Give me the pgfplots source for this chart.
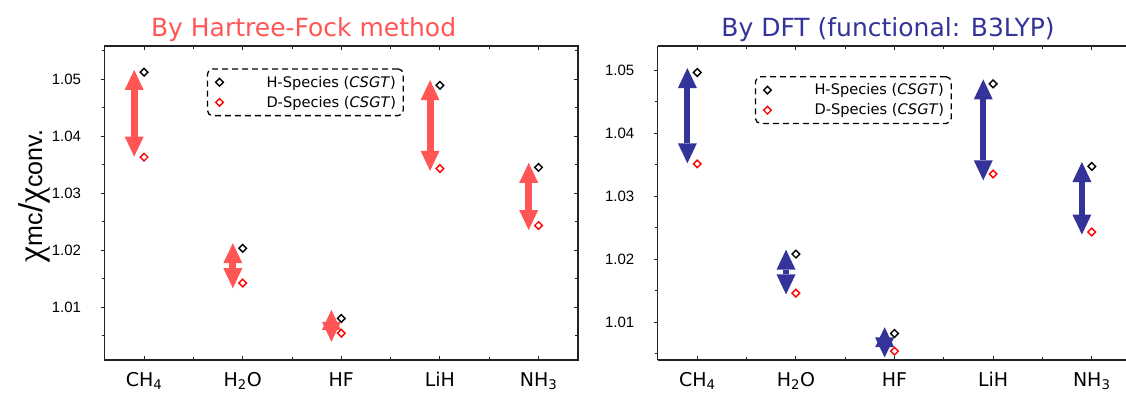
\documentclass[border=0pt]{standalone}
\usepackage{pgfplots}
\pgfplotsset{compat=1.18}
\usepackage{fontspec}
\setmainfont{DejaVu Sans}
\newfontfamily\numfont{Liberation Sans}
\newfontfamily\chifont{Liberation Serif}
\usetikzlibrary{arrows.meta}

\definecolor{hfred}{RGB}{255,85,85}
\definecolor{dftblue}{RGB}{51,51,153}
\definecolor{dred}{RGB}{255,0,0}
\definecolor{spine}{RGB}{34,34,34}

\pgfplotsset{
  panel/.style={
    scale only axis, width=473.4pt, height=314pt, anchor=south west,
    xmin=-0.4, xmax=4.4,
    xtick={0,1,2,3,4},
    xticklabels={CH\textsubscript{4},H\textsubscript{2}O,HF,LiH,NH\textsubscript{3}},
    minor xtick={0.5,1.5,2.5,3.5},
    xtick align=inside,
    ytick={1.01,1.02,1.03,1.04,1.05},
    ytick pos=left, ytick align=outside,
    major tick length=4pt, minor tick length=3pt,
    axis line style={line width=1.3pt, spine},
    every tick/.append style={spine, line width=0.9pt},
    every minor tick/.append style={spine, line width=0.9pt},
    scaled y ticks=false,
    /pgf/number format/assume math mode=true,
    yticklabel style={font=\numfont\fontsize{15}{17}\selectfont,
      /pgf/number format/fixed, /pgf/number format/precision=2,
      /pgf/number format/fixed zerofill},
    xticklabel style={font=\fontsize{19}{21}\selectfont, anchor=base, yshift=-26pt},
    legend cell align=left,
    legend image code/.code={\draw[##1] plot coordinates {(7pt,0pt)};
      \path[draw=none, fill=none] (0pt,-3pt) rectangle (52pt,3pt);},
    legend style={anchor=north west, draw=black, dash pattern=on 6pt off 4pt,
      line width=1.3pt, rounded corners=5pt,
      font=\fontsize{14.6}{17}\selectfont, inner xsep=5pt, inner ysep=5pt,
      row sep=3.5pt},
  },
  hspec/.style={only marks, mark=square, mark size=2.7pt,
    mark options={rotate=45, solid, line width=1.4pt, draw=black}},
  dspec/.style={only marks, mark=square, mark size=2.7pt,
    mark options={rotate=45, solid, line width=1.4pt, draw=dred}},
  hfarrow/.style={hfred, line width=7pt, forget plot,
    arrows={Triangle[width=19pt,length=20pt,line width=0pt]-Triangle[width=19pt,length=20pt,line width=0pt]}},
  dftarrow/.style={dftblue, line width=6pt, forget plot,
    arrows={Triangle[width=19pt,length=20pt,line width=0pt]-Triangle[width=19pt,length=20pt,line width=0pt]}},
}

\begin{document}
\begin{tikzpicture}

% ---------------- Hartree-Fock ----------------
\begin{axis}[panel, at={(104.6pt,32pt)},
  ymin=1.0007, ymax=1.0558,
  minor ytick={1.005,1.015,1.025,1.035,1.045,1.055},
  yticklabel style={xshift=-16pt},
  legend style={at={(rel axis cs:0.216,0.929)}}]
  % ratio ranges drawn as double arrows
  \addplot[hfarrow] coordinates {(-0.1,1.0364) (-0.1,1.0516)};
  \addplot[hfarrow] coordinates {(0.9,1.0133) (0.9,1.0212)};
  \addplot[hfarrow] coordinates {(1.9,1.0039) (1.9,1.0095)};
  \addplot[hfarrow] coordinates {(2.9,1.0339) (2.9,1.0498)};
  \addplot[hfarrow] coordinates {(3.9,1.0235) (3.9,1.0353)};
  \addplot[hspec] coordinates {(0,1.0512) (1,1.0203) (2,1.0080) (3,1.0489) (4,1.0345)};
  \addlegendentry{H-Species (\textit{CSGT})}
  \addplot[dspec] coordinates {(0,1.0363) (1,1.0142) (2,1.0054) (3,1.0343) (4,1.0243)};
  \addlegendentry{D-Species (\textit{CSGT})}
  % inward ticks on the right spine
  \pgfplotsinvokeforeach{1.01,1.02,1.03,1.04,1.05}{
    \draw[spine, line width=0.9pt] (axis cs:4.4,#1) -- ++(-4pt,0pt);}
  \pgfplotsinvokeforeach{1.005,1.015,1.025,1.035,1.045,1.055}{
    \draw[spine, line width=0.9pt] (axis cs:4.4,#1) -- ++(-3pt,0pt);}
\end{axis}

% ---------------- DFT (B3LYP) ----------------
\begin{axis}[panel, at={(657.8pt,32pt)},
  separate axis lines, axis x line*=box, axis y line*=left,
  ymin=1.004, ymax=1.0538,
  minor ytick={1.005,1.015,1.025,1.035,1.045},
  yticklabel style={xshift=-16pt},
  legend style={at={(rel axis cs:0.205,0.904)}}]
  \addplot[dftarrow] coordinates {(-0.1,1.0352) (-0.1,1.0503)};
  \addplot[dftarrow] coordinates {(0.9,1.0144) (0.9,1.0215)};
  \addplot[dftarrow] coordinates {(1.9,1.0044) (1.9,1.0092)};
  \addplot[dftarrow] coordinates {(2.9,1.0325) (2.9,1.0485)};
  \addplot[dftarrow] coordinates {(3.9,1.0239) (3.9,1.0354)};
  \addplot[hspec] coordinates {(0,1.0496) (1,1.0208) (2,1.0082) (3,1.0478) (4,1.0347)};
  \addlegendentry{H-Species (\textit{CSGT})}
  \addplot[dspec] coordinates {(0,1.0351) (1,1.0146) (2,1.0054) (3,1.0335) (4,1.0243)};
  \addlegendentry{D-Species (\textit{CSGT})}
\end{axis}

% titles and the shared y label
\node[anchor=base, text=hfred, font=\fontsize{25}{30}\selectfont] at (303.6pt,355.3pt) {By Hartree-Fock method};
\node[anchor=base, text=dftblue, font=\fontsize{25}{30}\selectfont] at (888pt,355.3pt) {By DFT (functional: B3LYP)};
\node[rotate=90, anchor=center] at (34pt,196pt)
  {{\chifont\fontsize{36}{36}\selectfont χ}{\numfont\fontsize{25}{25}\selectfont mc}{\numfont\fontsize{33}{33}\selectfont /}{\chifont\fontsize{36}{36}\selectfont χ}{\numfont\fontsize{25}{25}\selectfont conv.}};

\pgfresetboundingbox
\useasboundingbox (0pt,0pt) rectangle (1126pt,392pt);
\end{tikzpicture}
\end{document}
